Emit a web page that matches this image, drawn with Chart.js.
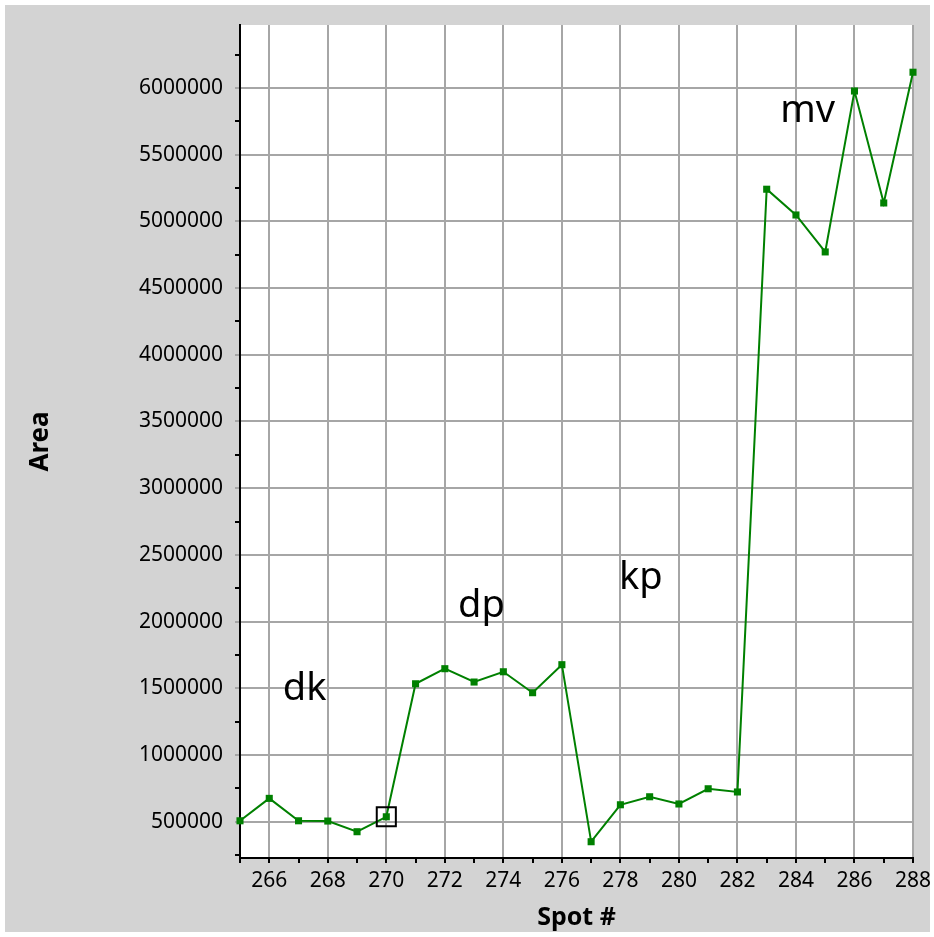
<!DOCTYPE html>
<html>
<head>
<meta charset="utf-8">
<script src="https://cdn.jsdelivr.net/npm/chart.js@4"></script>
<style>
  html, body { margin: 0; padding: 0; background: #ffffff; }
  #wrap { position: absolute; left: 5px; top: 5px; width: 925px; height: 927px; }
  canvas { background: #d3d3d3; }
</style>
</head>
<body>
<div id="wrap"><canvas id="c" width="925" height="927"></canvas></div>
<script>
// ---- data ----
const spots = [265, 266, 267, 268, 269, 270, 271, 272, 273, 274, 275, 276, 277, 278, 279, 280, 281, 282, 283, 284, 285, 286, 287, 288];
const areas = [507000, 675000, 507000, 505000, 425000, 537000, 1534000, 1647000, 1547000, 1624000, 1467000, 1677000, 350000, 627000, 687000, 633000, 747000, 723000, 5241000, 5048000, 4771000, 5977000, 5138000, 6118000];
const selectedSpot = [270];
const selectedArea = [537000];

const xTickValues = [265, 266, 267, 268, 269, 270, 271, 272, 273, 274, 275, 276, 277, 278, 279, 280, 281, 282, 283, 284, 285, 286, 287, 288];
const xTickLabels = ['266', '268', '270', '272', '274', '276', '278', '280', '282', '284', '286', '288'];
const yTickValues = [250000, 500000, 750000, 1000000, 1250000, 1500000, 1750000, 2000000, 2250000, 2500000, 2750000, 3000000, 3250000, 3500000, 3750000, 4000000, 4250000, 4500000, 4750000, 5000000, 5250000, 5500000, 5750000, 6000000, 6250000];
const yTickLabels = ['500000', '1000000', '1500000', '2000000', '2500000', '3000000', '3500000', '4000000', '4500000', '5000000', '5500000', '6000000'];

const groupLabels = ['dk', 'dp', 'kp', 'mv'];
const groupLabelSpots = [267.21, 273.25, 278.70, 284.40];
const groupLabelAreas = [1412000, 2037000, 2244000, 5745000];

const FONT = "'Noto Sans', 'DejaVu Sans', sans-serif";
const GRID = '#a6a6a6';

const plotBg = {
  id: 'plotBg',
  beforeDraw(chart) {
    const { ctx, chartArea: a } = chart;
    ctx.save();
    ctx.fillStyle = '#ffffff';
    ctx.fillRect(a.left, a.top, a.right - a.left, a.bottom - a.top);
    ctx.restore();
  }
};

const groupText = {
  id: 'groupText',
  afterDatasetsDraw(chart) {
    const { ctx, scales } = chart;
    ctx.save();
    ctx.fillStyle = '#000000';
    ctx.font = "38px " + FONT;
    ctx.textAlign = 'center';
    ctx.textBaseline = 'alphabetic';
    groupLabels.forEach((t, i) => {
      ctx.fillText(t, scales.x.getPixelForValue(groupLabelSpots[i]), scales.y.getPixelForValue(groupLabelAreas[i]));
    });
    ctx.restore();
  }
};

new Chart(document.getElementById('c'), {
  type: 'line',
  data: {
    datasets: [
      {
        data: spots.map((s, i) => ({ x: s, y: areas[i] })),
        borderColor: '#008000',
        borderWidth: 2,
        backgroundColor: '#008000',
        pointStyle: 'rect',
        pointRadius: 5,
        pointBorderWidth: 0,
        pointBackgroundColor: '#008000',
        tension: 0,
        fill: false,
        clip: 12,
        order: 2
      },
      {
        data: selectedSpot.map((s, i) => ({ x: s, y: selectedArea[i] })),
        showLine: false,
        pointStyle: 'rect',
        pointRadius: 13.5,
        pointBorderWidth: 2,
        pointBorderColor: '#000000',
        pointBackgroundColor: 'rgba(0,0,0,0)',
        clip: 20,
        order: 1
      }
    ]
  },
  options: {
    responsive: false,
    devicePixelRatio: 1,
    animation: false,
    events: [],
    layout: { padding: { top: 20, right: 17, left: 0, bottom: 0 } },
    plugins: { legend: { display: false }, tooltip: { enabled: false } },
    scales: {
      x: {
        type: 'linear',
        min: 265,
        max: 288,
        afterBuildTicks: (s) => { s.ticks = xTickValues.map(v => ({ value: v })); },
        afterFit: (s) => { s.height = 74; s.paddingLeft = 0; s.paddingRight = 0; },
        ticks: {
          autoSkip: false,
          maxRotation: 0,
          color: '#000000',
          font: { family: FONT, size: 21 },
          padding: 5,
          callback: (v) => xTickLabels.includes(String(v)) ? String(v) : ''
        },
        grid: {
          color: (c) => (c.tick && xTickLabels.includes(String(c.tick.value))) ? GRID : 'rgba(0,0,0,0)',
          tickColor: '#000000',
          lineWidth: 2,
          tickWidth: 2,
          tickLength: 5
        },
        border: { color: '#000000', width: 2 },
        title: {
          display: true,
          text: 'Spot #',
          color: '#000000',
          font: { family: FONT, size: 25, weight: 'bold' },
          padding: { top: 0, bottom: -1 }
        }
      },
      y: {
        type: 'linear',
        min: 228000,
        max: 6472000,
        afterBuildTicks: (s) => { s.ticks = yTickValues.map(v => ({ value: v })); },
        afterFit: (s) => { s.width = 235; s.paddingTop = 0; s.paddingBottom = 0; },
        ticks: {
          autoSkip: false,
          color: '#000000',
          font: { family: FONT, size: 21 },
          padding: 12,
          callback: (v) => yTickLabels.includes(String(v)) ? String(v) : ''
        },
        grid: {
          color: (c) => (c.tick && yTickLabels.includes(String(c.tick.value))) ? GRID : 'rgba(0,0,0,0)',
          tickColor: (c) => (c.tick && yTickLabels.includes(String(c.tick.value))) ? GRID : '#000000',
          lineWidth: 2,
          tickWidth: 2,
          tickLength: 5
        },
        border: { color: '#000000', width: 2 },
        title: {
          display: true,
          text: 'Area',
          color: '#000000',
          font: { family: FONT, size: 26, weight: 'bold' },
          padding: { top: 20, bottom: 0 }
        }
      }
    }
  },
  plugins: [plotBg, groupText]
});
</script>
</body>
</html>
